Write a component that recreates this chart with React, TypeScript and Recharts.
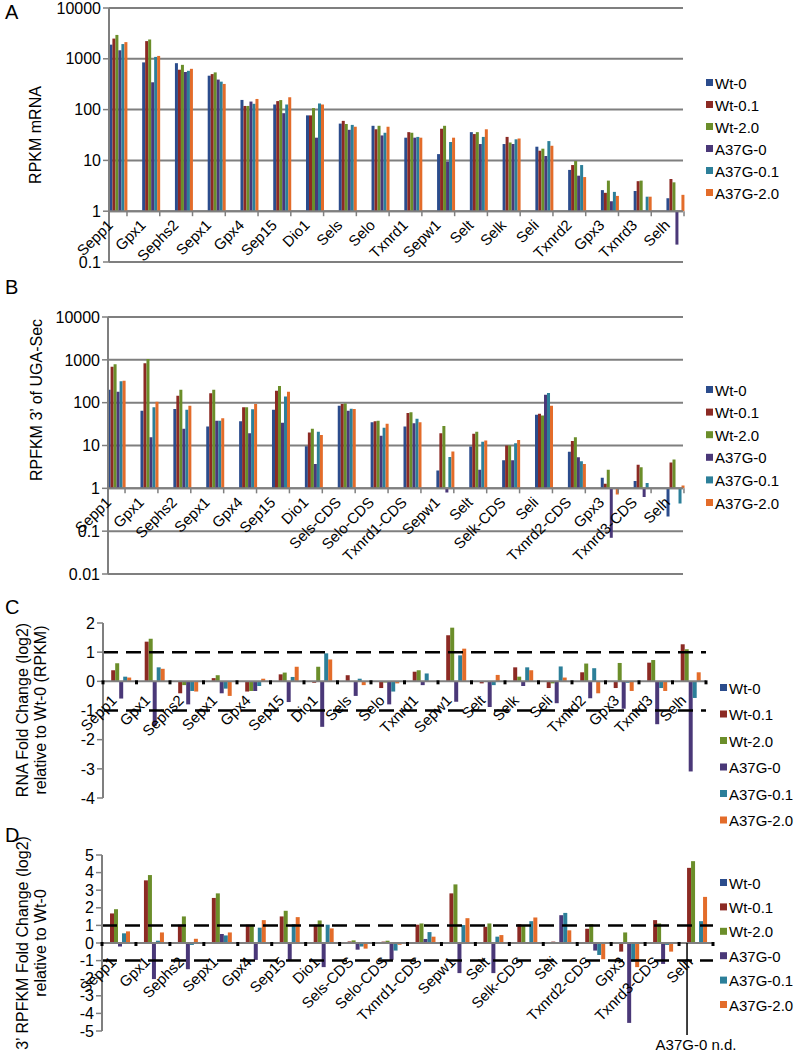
import React from "react";
import { BarChart, Bar, XAxis, YAxis, CartesianGrid, ReferenceLine } from "recharts";

const seriesNames = ["Wt-0", "Wt-0.1", "Wt-2.0", "A37G-0", "A37G-0.1", "A37G-2.0"];
const seriesColors = ["#2B4C8C", "#8C2A24", "#6B8E2A", "#4A3878", "#2C7F99", "#E36C2A"];
const seriesKeys = ["s0", "s1", "s2", "s3", "s4", "s5"];

const mrnaGenes = ["Sepp1", "Gpx1", "Sephs2", "Sepx1", "Gpx4", "Sep15", "Dio1", "Sels", "Selo", "Txnrd1", "Sepw1", "Selt", "Selk", "Seli", "Txnrd2", "Gpx3", "Txnrd3", "Selh"];
const rpfGenes = ["Sepp1", "Gpx1", "Sephs2", "Sepx1", "Gpx4", "Sep15", "Dio1", "Sels-CDS", "Selo-CDS", "Txnrd1-CDS", "Sepw1", "Selt", "Selk-CDS", "Seli", "Txnrd2-CDS", "Gpx3", "Txnrd3-CDS", "Selh"];

// A: RPKM mRNA
const mrnaWt0 = [1900, 850, 820, 465, 155, 126, 77, 53, 48, 28, 13.3, 36, 21, 18.6, 6.5, 2.6, 2.5, 1.8];
const mrnaWt01 = [2500, 2230, 610, 500, 118, 147, 77, 60, 41, 36, 42, 33, 29, 15.5, 8.1, 2.3, 3.9, 4.3];
const mrnaWt20 = [2950, 2400, 760, 540, 118, 154, 107, 52, 48, 35, 48, 36, 22.5, 17, 9.7, 4.0, 4.0, 3.7];
const mrnaA0 = [1470, 345, 550, 390, 144, 85, 28, 40, 31, 28, 9.5, 21, 21, 12.2, 5, 1.57, 1, 0.22];
const mrnaA01 = [1950, 1090, 580, 355, 130, 126, 132, 50, 35, 29, 23, 29, 26, 24, 8.1, 2.4, 1.93, 1];
const mrnaA20 = [2130, 1140, 635, 320, 162, 175, 126, 46, 46, 28, 28, 41, 27, 19.4, 4.7, 2.0, 1.93, 2.1];

// B: RPFKM 3' of UGA-Sec
const rpfWt0 = [200, 65, 71, 27.6, 37, 68, 9.6, 85, 35, 27.6, 2.6, 9.5, 4.5, 52, 7.1, 1.77, 1.48, 0.22];
const rpfWt01 = [690, 835, 145, 165, 78, 190, 20, 93, 37, 57, 19.4, 18.7, 10, 55, 12.8, 1.28, 3.55, 4.0];
const rpfWt20 = [790, 1040, 200, 200, 78, 245, 24.5, 96, 38, 60, 28.7, 21, 10, 50, 15.6, 2.7, 3.1, 4.7];
const rpfA0 = [180, 15.6, 24.5, 38, 19.4, 34, 3.7, 65, 17, 33, 0.8, 2.7, 4.5, 153, 5.3, 0.07, 0.63, 1];
const rpfA01 = [315, 78, 68, 38, 70, 140, 21, 72, 26, 42, 5.4, 12.2, 11.3, 168, 4.3, 1, 1.33, 0.44];
const rpfA20 = [325, 105, 85, 43, 93, 180, 17.7, 71, 32, 35, 7.2, 13, 13.5, 85, 3.7, 0.72, 1, 1.17];

// C: RNA fold change (log2) relative to Wt-0
const rnaFcWt0 = [0, 0, 0, 0, 0, 0, 0, 0, 0, 0, 0, 0, 0, 0, 0, 0, 0, 0];
const rnaFcWt01 = [0.38, 1.36, -0.41, 0.11, -0.35, 0.24, -0.05, 0.21, -0.23, 0.33, 1.58, -0.07, 0.48, -0.23, 0.31, -0.23, 0.64, 1.27];
const rnaFcWt20 = [0.62, 1.46, -0.13, 0.21, -0.33, 0.3, 0.5, -0.02, -0.04, 0.38, 1.84, 0.01, 0.16, -0.07, 0.61, 0.63, 0.73, 1.1];
const rnaFcA0 = [-0.59, -1.53, -0.79, -0.41, -0.33, -0.71, -1.56, -0.5, -0.79, -0.13, -0.7, -0.88, -0.16, -0.75, -0.58, -0.94, -1.47, -3.09];
const rnaFcA01 = [0.16, 0.48, -0.33, -0.25, -0.16, 0.15, 0.96, 0.09, -0.35, 0.27, 0.89, -0.13, 0.48, 0.51, 0.45, -0.05, -0.23, -0.57];
const rnaFcA20 = [0.13, 0.43, -0.35, -0.5, 0.09, 0.5, 0.75, -0.13, -0.07, -0.02, 1.12, 0.22, 0.38, 0.13, -0.41, -0.33, -0.33, 0.31];

// D: 3' RPFKM fold change (log2) relative to Wt-0
const rpfFcWt0 = [0, 0, 0, 0, 0, 0, 0, 0, 0, 0, 0, 0, 0, 0, 0, 0, 0, 0];
const rpfFcWt01 = [1.68, 3.56, 1.04, 2.56, 1.04, 1.51, 1.04, 0.09, 0.08, 1.04, 2.82, 0.92, 1.07, 0.08, 0.81, -0.49, 1.3, 4.27];
const rpfFcWt20 = [1.92, 3.86, 1.51, 2.82, 1.04, 1.83, 1.28, 0.15, 0.13, 1.11, 3.33, 1.11, 0.96, 0.01, 1.07, 0.6, 1.11, 4.65];
const rpfFcA0 = [-0.2, -2.05, -1.49, 0.51, -0.96, -0.96, -1.37, -0.38, -0.96, 0.23, -1.71, -1.71, 0.02, 1.58, -0.43, -4.54, -1.19, null];
const rpfFcA01 = [0.55, 0.13, -0.11, 0.43, 0.87, 1.07, 1.04, -0.2, -0.43, 0.62, 1.02, 0.36, 1.24, 1.71, -0.68, -1.05, -0.11, 1.24];
const rpfFcA20 = [0.66, 0.6, 0.24, 0.6, 1.3, 1.47, 0.83, -0.32, -0.1, 0.36, 1.41, 0.45, 1.45, 0.72, -0.92, -1.37, -0.49, 2.62];

const logTicksA = [-1, 0, 1, 2, 3, 4];
const logTicksB = [-2, -1, 0, 1, 2, 3, 4];
const fcTicksC = [-4, -3, -2, -1, 0, 1, 2];
const fcTicksD = [-5, -4, -3, -2, -1, 0, 1, 2, 3, 4, 5];

function buildRows(genes: string[], series: (number | null)[][], toLog: boolean) {
  return genes.map((name, i) => {
    const row: Record<string, any> = { name };
    series.forEach((vals, k) => {
      const v = vals[i];
      row[seriesKeys[k]] = v == null ? null : toLog ? Math.log10(v) : v;
    });
    return row;
  });
}

const GRAY = "#7f7f7f";
const FONT = "'Liberation Sans', Arial, sans-serif";

function GeneTick(props: any) {
  const { x, y, payload, index, lift, markKind, band, markAt, dx, dy } = props;
  const zeroY = y - lift;
  const tx = x + dx;
  const ty = zeroY + dy;
  return (
    <g>
      {markKind === "line" ? (
        <line x1={x + markAt} x2={x + markAt} y1={zeroY} y2={zeroY + 5} stroke={GRAY} strokeWidth={1.5} />
      ) : (
        <g>
          {index === 0 && <rect x={x - band / 2 - 1.5} y={zeroY - 1} width={3} height={4} fill="#000" />}
          <rect x={x + band / 2 - 1.5} y={zeroY - 1} width={3} height={4} fill="#000" />
        </g>
      )}
      <text x={tx} y={ty} textAnchor="end" fontSize={15} fill="#000" transform={`rotate(-45 ${tx} ${ty})`}>
        {payload.value}
      </text>
    </g>
  );
}

type Panel = {
  rows: Record<string, any>[];
  log: boolean;
  domain: [number, number];
  ticks: number[];
  left: number;
  right: number;
  top: number;
  bottom: number;
  pad: { left: number; right: number };
  gap: number;
  dx: number;
  dy: number;
  nd?: boolean;
};

function PanelChart({ p }: { p: Panel }) {
  const yw = 60;
  const height = p.bottom + 28;
  const plotH = p.bottom - p.top;
  const lift = (plotH * (0 - p.domain[0])) / (p.domain[1] - p.domain[0]);
  const band = (p.right - p.left - p.pad.left - p.pad.right) / p.rows.length;
  return (
    <div style={{ position: "absolute", left: 0, top: 0 }}>
      <BarChart
        width={805}
        height={height}
        data={p.rows}
        margin={{ top: p.top, right: 805 - p.right, bottom: 27, left: p.left - yw }}
        barGap={0}
        barCategoryGap={p.gap}
      >
        {p.log && <CartesianGrid vertical={false} stroke={GRAY} strokeWidth={2} />}
        <XAxis
          dataKey="name"
          height={1}
          interval={0}
          tickSize={0}
          tickMargin={0}
          axisLine={false}
          tickLine={false}
          padding={p.pad}
          tick={
            <GeneTick
              lift={lift}
              band={band}
              markKind={p.log ? "line" : "square"}
              markAt={p.log ? 9 : 0}
              dx={p.dx}
              dy={p.dy}
            />
          }
        />
        <YAxis
          type="number"
          width={yw}
          domain={p.domain}
          ticks={p.ticks}
          interval={0}
          allowDataOverflow
          axisLine={{ stroke: GRAY, strokeWidth: 2 }}
          tickLine={{ stroke: GRAY, strokeWidth: 1.5 }}
          tick={{ fontSize: 16, fill: "#000" }}
          tickFormatter={(v: number) => (p.log ? String(10 ** v) : String(v))}
        />
        <ReferenceLine y={0} stroke={GRAY} strokeWidth={2} />
        {seriesKeys.map((k, i) => (
          <Bar key={k} dataKey={k} name={seriesNames[i]} fill={seriesColors[i]} isAnimationActive={false} />
        ))}
        {!p.log && <ReferenceLine y={1} stroke="#000" strokeWidth={2.5} strokeDasharray="15 8" />}
        {!p.log && <ReferenceLine y={-1} stroke="#000" strokeWidth={2.5} strokeDasharray="15 8" />}
        {p.nd && (
          <ReferenceLine
            segment={[
              { x: "Selh", y: 0 },
              { x: "Selh", y: p.domain[0] },
            ]}
            stroke="#000"
            strokeWidth={1.5}
            shape={(s: any) => <line x1={s.x1 - 9} y1={s.y1} x2={s.x2 - 9} y2={s.y2 + 4} stroke="#000" strokeWidth={1.5} />}
            label={{ value: "A37G-0 n.d.", position: "bottom", offset: 8, fill: "#000", fontSize: 15 }}
          />
        )}
      </BarChart>
    </div>
  );
}

const panels: Panel[] = [
  {
    rows: buildRows(mrnaGenes, [mrnaWt0, mrnaWt01, mrnaWt20, mrnaA0, mrnaA01, mrnaA20], true),
    log: true, domain: [-1, 4], ticks: logTicksA,
    left: 109, right: 683, top: 8, bottom: 262, pad: { left: -7.4, right: -8.4 }, gap: 7.8, dx: -4, dy: 15,
  },
  {
    rows: buildRows(rpfGenes, [rpfWt0, rpfWt01, rpfWt20, rpfA0, rpfA01, rpfA20], true),
    log: true, domain: [-2, 4], ticks: logTicksB,
    left: 108, right: 683, top: 317, bottom: 574, pad: { left: -8.4, right: -8.4 }, gap: 8, dx: -4, dy: 15,
  },
  {
    rows: buildRows(mrnaGenes, [rnaFcWt0, rnaFcWt01, rnaFcWt20, rnaFcA0, rnaFcA01, rnaFcA20], false),
    log: false, domain: [-4, 2], ticks: fcTicksC,
    left: 103, right: 706, top: 623, bottom: 798, pad: { left: 0, right: 0 }, gap: 4.2, dx: -2, dy: 20,
  },
  {
    rows: buildRows(rpfGenes, [rpfFcWt0, rpfFcWt01, rpfFcWt20, rpfFcA0, rpfFcA01, rpfFcA20], false),
    log: false, domain: [-5, 5], ticks: fcTicksD,
    left: 102, right: 713, top: 855, bottom: 1031, pad: { left: 0, right: 0 }, gap: 4, dx: -2, dy: 20, nd: true,
  },
];

const legendSpots = [
  { x: 706, y: 83, step: 22 },
  { x: 706, y: 390, step: 22.6 },
  { x: 720, y: 688, step: 26.5 },
  { x: 720, y: 883, step: 24.4 },
];

function Overlay() {
  const letters = [
    { t: "A", y: 19 },
    { t: "B", y: 294 },
    { t: "C", y: 614 },
    { t: "D", y: 842 },
  ];
  const titles = [
    { lines: ["RPKM mRNA"], x: 35, y: 135 },
    { lines: ["RPFKM 3\u2019 of UGA-Sec"], x: 36, y: 400 },
    { lines: ["RNA Fold Change (log2)", "relative to Wt-0 (RPKM)"], x: 22, y: 710 },
    { lines: ["3\u2019 RPFKM Fold Change (log2)", "relative to Wt-0"], x: 22, y: 943 },
  ];
  return (
    <svg width={805} height={1059} style={{ position: "absolute", left: 0, top: 0, pointerEvents: "none" }}>
      {letters.map((l) => (
        <text key={l.t} x={5} y={l.y} fontSize={20} fill="#000">
          {l.t}
        </text>
      ))}
      {titles.map((t, i) =>
        t.lines.map((line, j) => {
          const x = t.x + j * 18;
          return (
            <text
              key={`${i}-${j}`}
              x={x}
              y={t.y}
              fontSize={16}
              fill="#000"
              textAnchor="middle"
              dominantBaseline="central"
              transform={`rotate(-90 ${x} ${t.y})`}
            >
              {line}
            </text>
          );
        })
      )}
      {legendSpots.map((s, i) =>
        seriesNames.map((n, k) => (
          <g key={`${i}-${n}`}>
            <rect x={s.x} y={s.y + k * s.step - 4} width={7} height={7} fill={seriesColors[k]} />
            <text x={s.x + 9} y={s.y + k * s.step} fontSize={15} fill="#000" dominantBaseline="central">
              {n}
            </text>
          </g>
        ))
      )}
    </svg>
  );
}

export default function App() {
  return (
    <div
      style={{
        position: "absolute",
        left: 0,
        top: 0,
        width: 805,
        height: 1059,
        overflow: "hidden",
        background: "#fff",
        fontFamily: FONT,
      }}
    >
      {panels.map((p, i) => (
        <PanelChart key={i} p={p} />
      ))}
      <Overlay />
    </div>
  );
}
